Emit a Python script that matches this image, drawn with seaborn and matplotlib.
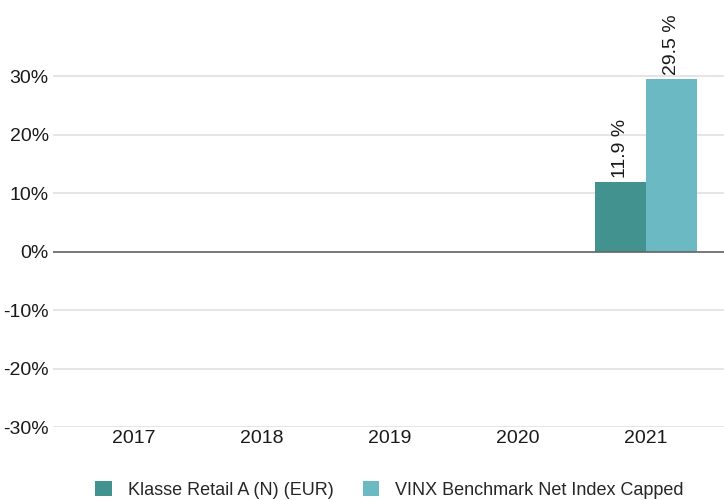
import matplotlib.pyplot as plt
import seaborn as sns
import numpy as np
import pandas as pd

# 数据
years = ['2017', '2018', '2019', '2020', '2021']
fund_returns = [np.nan, np.nan, np.nan, np.nan, 11.9]
bench_returns = [np.nan, np.nan, np.nan, np.nan, 29.5]
series_names = ['Klasse Retail A (N) (EUR)', 'VINX Benchmark Net Index Capped']
colors = ['#42938F', '#6BB9C3']

df = pd.DataFrame({
    'year': years * 2,
    'value': fund_returns + bench_returns,
    'series': [series_names[0]] * len(years) + [series_names[1]] * len(years),
}).dropna()

sns.set_theme(style='white')
plt.rcParams['font.family'] = ['Liberation Sans', 'DejaVu Sans']

fig = plt.figure(figsize=(7.24, 5.0), dpi=100)
ax = fig.add_axes([53 / 724, 73 / 500, 671 / 724, 427 / 500])

sns.barplot(data=df, x='year', y='value', hue='series', order=years,
            hue_order=series_names, palette=colors, width=0.8,
            saturation=1, linewidth=0, ax=ax, legend=True)

ax.set_ylim(-30, 43)
ax.set_xlim(-0.63, 4.61)
ax.set_yticks(np.arange(-30, 31, 10))
ax.set_yticklabels([f'{v}%' for v in range(-30, 31, 10)], fontsize=14, color='#1a1a1a')
ax.tick_params(axis='x', labelsize=14, colors='#1a1a1a', length=0, pad=2)
ax.tick_params(axis='y', length=0, pad=3)
ax.set_xlabel('')
ax.set_ylabel('')

ax.grid(axis='y', color='#e0e0e0', linewidth=1.2)
ax.set_axisbelow(True)
ax.axhline(0, color='#666666', linewidth=1.2, zorder=1)
for s in ax.spines.values():
    s.set_visible(False)

# 柱顶数值标签
for cont in ax.containers:
    labels = [f'{b.get_height():.1f} %' if b.get_height() == b.get_height() else ''
              for b in cont]
    ax.bar_label(cont, labels=labels, rotation=90, padding=3, fontsize=14,
                 color='#1a1a1a')

# 图例
handles, lbls = ax.get_legend_handles_labels()
ax.legend_.remove()
fig.legend(handles, lbls, loc='lower center', bbox_to_anchor=(0.538, -0.03),
           ncol=2, frameon=False, fontsize=13, handlelength=0.9,
           handleheight=0.9, columnspacing=1.6, handletextpad=0.9)

fig.savefig('out.png', dpi=100)
